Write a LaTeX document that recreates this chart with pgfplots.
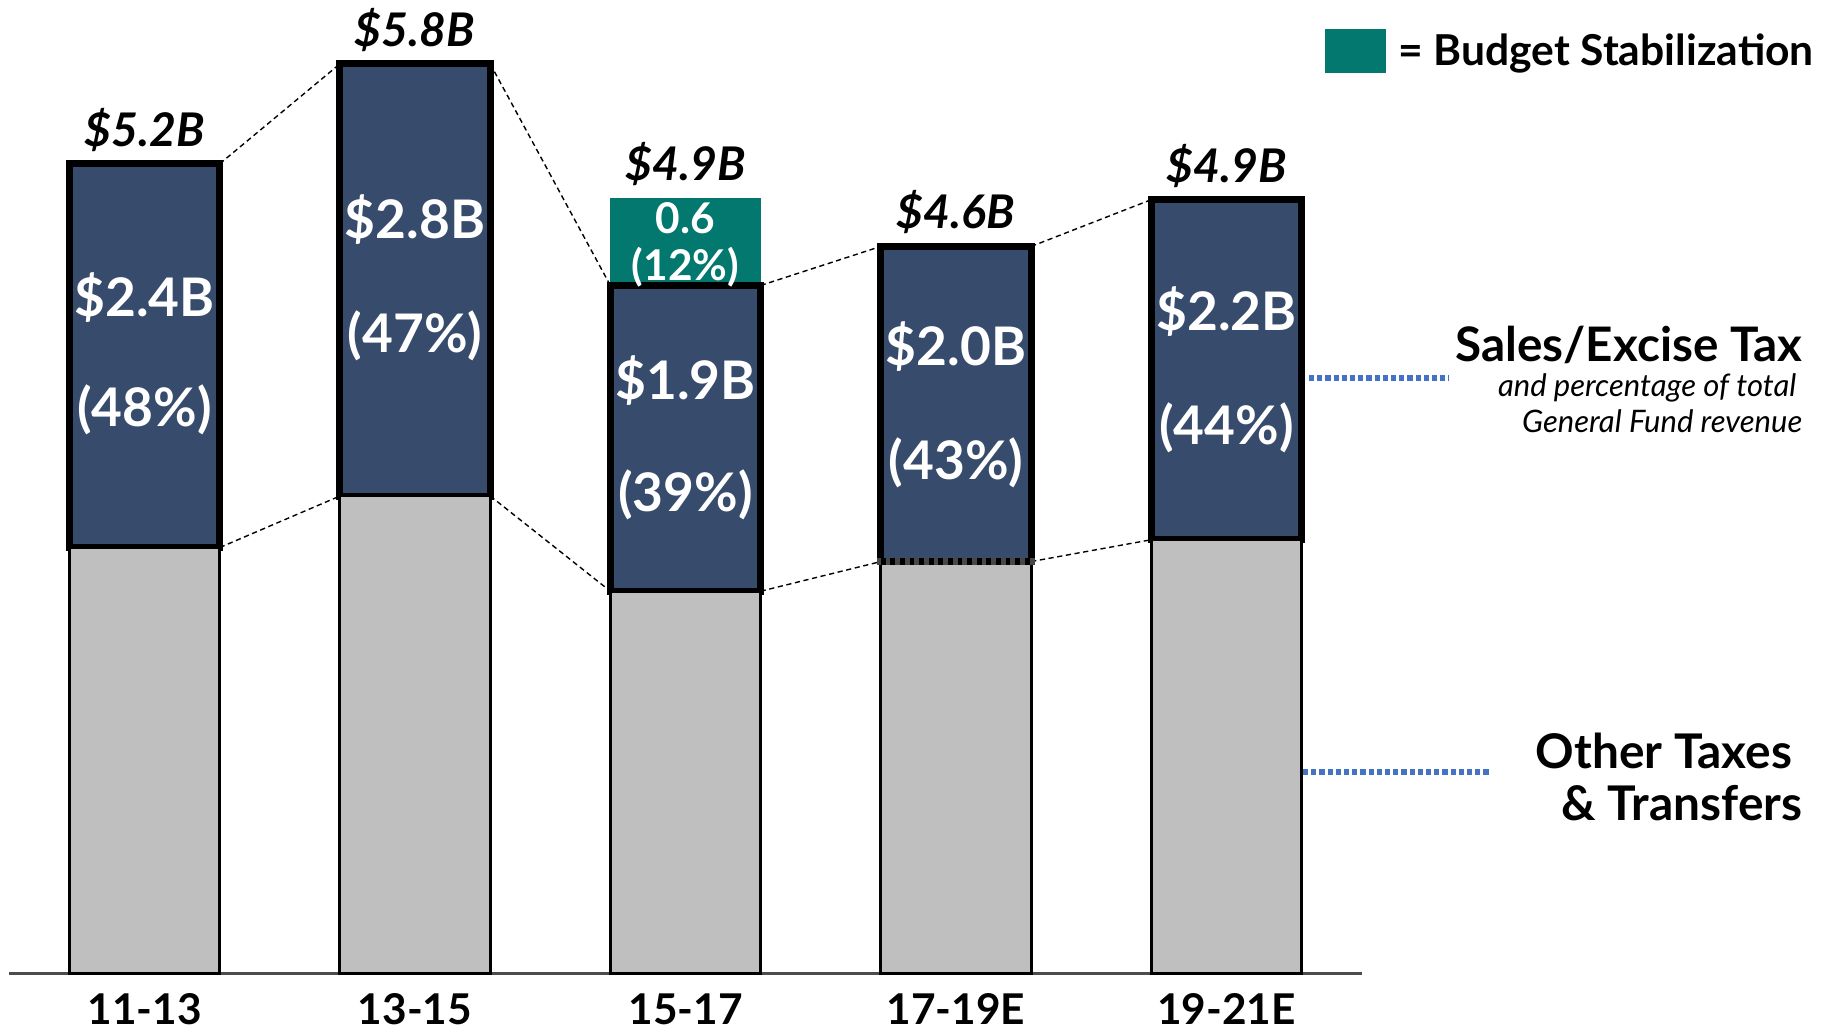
\documentclass[border=0pt]{standalone}
\usepackage{fontspec}
\setmainfont{Lato}
\usepackage{pgfplots}
\pgfplotsset{compat=1.18}
\definecolor{navy}{RGB}{55,76,108}
\definecolor{tealbs}{RGB}{2,120,110}
\definecolor{barg}{RGB}{191,191,191}
\definecolor{dotblue}{RGB}{68,114,196}
\newcommand{\toplab}{\bfseries\itshape\fontsize{11.6}{13}\selectfont}
\newcommand{\inlab}{\bfseries\fontsize{13.3}{15}\selectfont}
\newcommand{\tlab}{\bfseries\fontsize{10.6}{12}\selectfont}
\begin{document}
\begin{tikzpicture}
\useasboundingbox (0,0) rectangle (457pt,257.75pt);
\pgfplotsset{common/.style={scale only axis, width=338.1pt, height=241.8pt,
  at={(2.33pt,14.4pt)}, anchor=south west, xmin=-0.5, xmax=4.5, ymin=0, ymax=6.2, clip=false}}
\begin{axis}[common, ybar stacked, bar width=0.556,
  axis y line=none, axis x line*=bottom,
  x axis line style={-, line width=0.6pt, color=black!70},
  xtick={0,1,2,3,4}, xticklabels={11-13,13-15,15-17,17-19E,19-21E},
  major tick length=0pt, ytick=\empty,
  xticklabel style={font=\bfseries\fontsize{10.6}{12}\selectfont, anchor=base, yshift=-12.8pt}]
\addplot[fill=barg, draw=black, line width=0.7pt] coordinates {(0,2.73) (1,3.06) (2,2.45) (3,2.64) (4,2.78)};
\addplot[fill=navy, draw=black, line width=1.75pt] coordinates {(0,2.46) (1,2.77) (2,1.96) (3,2.02) (4,2.18)};
\addplot[fill=tealbs, draw=none] coordinates {(0,0) (1,0) (2,0.56) (3,0) (4,0)};
\end{axis}
\begin{axis}[common, axis lines=none]
% connecting dashed lines (totals)
\addplot[black, mark=none, line width=0.35pt, dash pattern=on 1.3pt off 0.9pt] coordinates {(0.278,5.19) (0.722,5.83)};
\addplot[black, mark=none, line width=0.35pt, dash pattern=on 1.3pt off 0.9pt] coordinates {(1.278,5.83) (1.722,4.41)};
\addplot[black, mark=none, line width=0.35pt, dash pattern=on 1.3pt off 0.9pt] coordinates {(2.278,4.41) (2.722,4.66)};
\addplot[black, mark=none, line width=0.35pt, dash pattern=on 1.3pt off 0.9pt] coordinates {(3.278,4.66) (3.722,4.96)};
% connecting dashed lines (other taxes)
\addplot[black, mark=none, line width=0.35pt, dash pattern=on 1.3pt off 0.9pt] coordinates {(0.278,2.73) (0.722,3.06)};
\addplot[black, mark=none, line width=0.35pt, dash pattern=on 1.3pt off 0.9pt] coordinates {(1.278,3.06) (1.722,2.45)};
\addplot[black, mark=none, line width=0.35pt, dash pattern=on 1.3pt off 0.9pt] coordinates {(2.278,2.45) (2.722,2.64)};
\addplot[black, mark=none, line width=0.35pt, dash pattern=on 1.3pt off 0.9pt] coordinates {(3.278,2.64) (3.722,2.78)};
% border between sales tax and budget stabilization
\addplot[black, mark=none, line width=1.75pt, line cap=rect] coordinates {(1.722,4.41) (2.278,4.41)};
% dotted bottom edge of 17-19E
\addplot[black!72, mark=none, line width=1.75pt, line cap=rect] coordinates {(2.722,2.64) (3.278,2.64)};
\addplot[black, mark=none, line width=1.75pt, dash pattern=on 1.2pt off 1.2pt] coordinates {(2.722,2.64) (3.278,2.64)};
% totals
\node[font=\toplab, anchor=base, yshift=4.4pt] at (axis cs:0,5.19) {\$5.2B};
\node[font=\toplab, anchor=base, yshift=4.4pt] at (axis cs:1,5.83) {\$5.8B};
\node[font=\toplab, anchor=base, yshift=4.4pt] at (axis cs:2,4.97) {\$4.9B};
\node[font=\toplab, anchor=base, yshift=4.4pt] at (axis cs:3,4.66) {\$4.6B};
\node[font=\toplab, anchor=base, yshift=4.4pt] at (axis cs:4,4.96) {\$4.9B};
% inside labels
\node[font=\inlab, text=white] at (axis cs:0,4.33) {\$2.4B};
\node[font=\inlab, text=white] at (axis cs:0,3.61) {(48\%)};
\node[font=\inlab, text=white] at (axis cs:1,4.83) {\$2.8B};
\node[font=\inlab, text=white] at (axis cs:1,4.09) {(47\%)};
\node[font=\inlab, text=white] at (axis cs:2,3.80) {\$1.9B};
\node[font=\inlab, text=white] at (axis cs:2,3.07) {(39\%)};
\node[font=\inlab, text=white] at (axis cs:3,4.02) {\$2.0B};
\node[font=\inlab, text=white] at (axis cs:3,3.27) {(43\%)};
\node[font=\inlab, text=white] at (axis cs:4,4.24) {\$2.2B};
\node[font=\inlab, text=white] at (axis cs:4,3.50) {(44\%)};
\node[font=\tlab, text=white] at (axis cs:2,4.84) {0.6};
\node[font=\tlab, text=white] at (axis cs:2,4.53) {(12\%)};
\end{axis}
% legend and annotations
\fill[tealbs] (331.25pt,239.5pt) rectangle (346.5pt,250.5pt);
\node[anchor=west, inner sep=0pt, font=\bfseries\fontsize{10.65}{12}\selectfont] at (349.5pt,244.4pt) {= Budget Stabilization};
\node[anchor=east, inner sep=0pt, font=\bfseries\fontsize{11.9}{13}\selectfont] at (450.75pt,171.5pt) {Sales/Excise Tax};
\node[anchor=east, inner sep=0pt, font=\itshape\fontsize{7.75}{9}\selectfont] at (449.25pt,160.75pt) {and percentage of total};
\node[anchor=east, inner sep=0pt, font=\itshape\fontsize{7.75}{9}\selectfont] at (450.75pt,152.5pt) {General Fund revenue};
\draw[dotblue, line width=1.4pt, dash pattern=on 1.3pt off 0.75pt] (327.25pt,163.25pt) -- (362.25pt,163.25pt);
\node[anchor=east, inner sep=0pt, font=\bfseries\fontsize{11.95}{13}\selectfont] at (448.25pt,70pt) {Other Taxes};
\node[anchor=east, inner sep=0pt, font=\bfseries\fontsize{11.95}{13}\selectfont] at (450.75pt,57pt) {\& Transfers};
\draw[dotblue, line width=1.4pt, dash pattern=on 1.3pt off 0.75pt] (325.75pt,64.75pt) -- (372.5pt,64.75pt);
\end{tikzpicture}
\end{document}
